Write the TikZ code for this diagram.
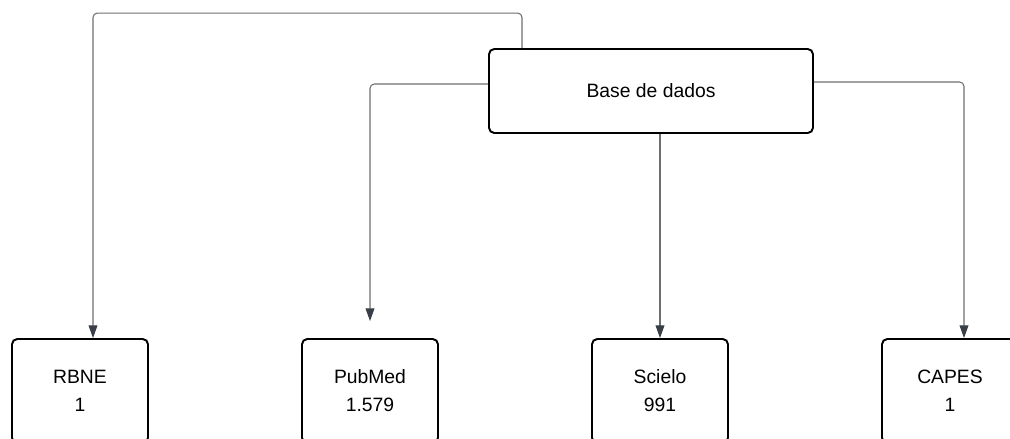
\documentclass[tikz,border=0pt]{standalone}
\usepackage{fontspec}
\setmainfont{Liberation Sans}
\usepackage{xcolor}
\usetikzlibrary{arrows.meta, positioning, calc}
\definecolor{linegray}{RGB}{110, 110, 112}
\definecolor{tipgray}{RGB}{58, 62, 70}

\begin{document}
\begin{tikzpicture}[
  x=0.02cm, y=-0.02cm,
  box/.style={draw=black, fill=white, rounded corners=3pt, line width=1.1pt,
              minimum width=136*0.02cm, minimum height=104*0.02cm,
              font=\fontsize{11}{16}\selectfont, align=center, inner sep=0pt},
  conn/.style={draw=linegray, line width=0.6pt, rounded corners=2.5pt,
               -{Triangle[length=7.2pt, width=5pt, color=tipgray]}}
]
  \useasboundingbox (0,0) rectangle (1010,439);
  \clip (0,0) rectangle (1010,439);

  \node[box, minimum width=324*0.02cm, minimum height=84*0.02cm] (base) at (651, 91) {Base de dados};

  \node[box] (rbne)   at (80,  391) {RBNE\\1};
  \node[box] (pubmed) at (370, 391) {PubMed\\1.579};
  \node[box] (scielo) at (660, 391) {Scielo\\991};
  \node[box] (capes)  at (950, 391) {CAPES\\1};

  \draw[conn] ($(base.north)+(-129,0)$) -- ++(0,-35) -| ($(rbne.north)+(13,0)$);
  \draw[conn] ($(base.west)+(0,-7)$) -| ($(pubmed.north)+(0,-17)$);
  \draw[conn] (base.south -| scielo.north) -- (scielo.north);
  \draw[conn] ($(base.east)+(0,-9)$) -| ($(capes.north)+(14,0)$);
\end{tikzpicture}
\end{document}
